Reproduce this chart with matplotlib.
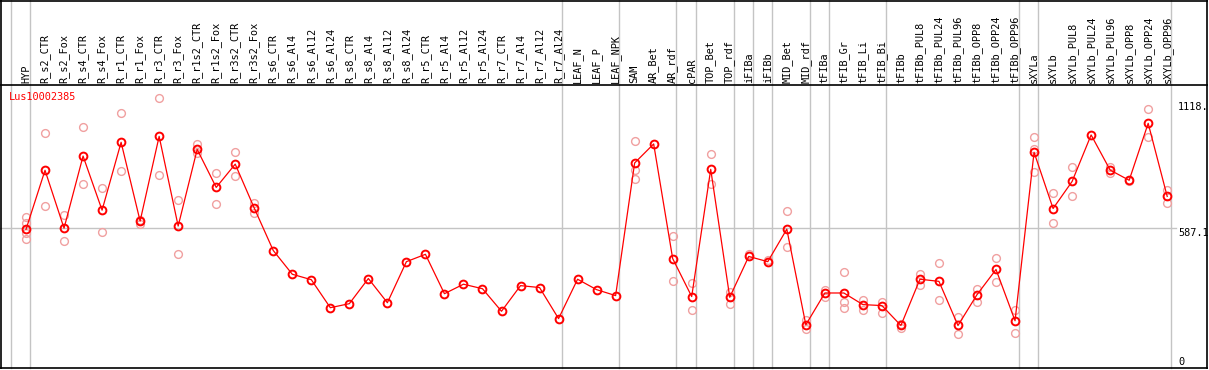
import matplotlib
matplotlib.use("Agg")
import matplotlib.pyplot as plt

W, H = 1209, 370
X0, DX = 26.0, 19.02          # pixel x of first column, column spacing
Y0, SY = 367.5, 0.2373        # pixel y of value 0, pixels per unit

GENE = "Lus10002385"

samples = [
    "HYP", "R_s2_CTR", "R_s2_Fox", "R_s4_CTR", "R_s4_Fox", "R_r1_CTR", "R_r1_Fox",
    "R_r3_CTR", "R_r3_Fox", "R_r1s2_CTR", "R_r1s2_Fox", "R_r3s2_CTR", "R_r3s2_Fox",
    "R_s6_CTR", "R_s6_Al4", "R_s6_Al12", "R_s6_Al24", "R_s8_CTR", "R_s8_Al4",
    "R_s8_Al12", "R_s8_Al24", "R_r5_CTR", "R_r5_Al4", "R_r5_Al12", "R_r5_Al24",
    "R_r7_CTR", "R_r7_Al4", "R_r7_Al12", "R_r7_Al24", "LEAF_N", "LEAF_P", "LEAF_NPK",
    "SAM", "AR_Bet", "AR_rdf", "cPAR", "TOP_Bet", "TOP_rdf", "iFIBa", "iFIBb",
    "MID_Bet", "MID_rdf", "tFIBa", "tFIB_Gr", "tFIB_Li", "tFIB_Bi", "tFIBb",
    "tFIBb_PUL8", "tFIBb_PUL24", "tFIBb_PUL96", "tFIBb_OPP8", "tFIBb_OPP24",
    "tFIBb_OPP96", "sXYLa", "sXYLb", "sXYLb_PUL8", "sXYLb_PUL24", "sXYLb_PUL96",
    "sXYLb_OPP8", "sXYLb_OPP24", "sXYLb_OPP96",
]

means = [
    582, 831, 587, 891, 663, 949, 617, 974, 596, 919, 759, 857, 672,
    493, 393, 370, 252, 269, 375, 273, 446, 477, 311, 351, 332,
    237, 345, 337, 206, 372, 328, 303,
    862, 942, 459, 299, 835, 296, 468, 446,
    583, 180, 314, 314, 265, 261, 177,
    372, 363, 177, 307, 413, 197,
    907, 670, 784, 980, 832, 789, 1029, 721,
]

replicates = [
    [635, 607, 565, 543], [987, 679], [641, 535], [1014, 772], [755, 569],
    [1071, 827], [621, 604], [1135, 810], [707, 480], [941, 903], [821, 691],
    [907, 805], [694, 649],
    [], [], [], [], [], [], [], [], [], [], [], [], [], [], [], [], [], [], [],
    [955, 831, 793], [], [553, 366], [356, 244], [900, 774], [318, 267],
    [480], [451], [659, 506], [199, 162], [325, 297], [404, 275, 252],
    [286, 241], [276, 231], [184, 166],
    [392, 349], [442, 283], [212, 142], [332, 277], [463, 362], [243, 145],
    [973, 921, 825], [734, 611], [846, 724], [], [843, 821], [784],
    [1090, 970], [748, 695],
]

# group separators sit just right of these columns
separators = [-1, 0, 28, 31, 34, 35, 37, 38, 39, 41, 42, 45, 52, 53, 60]

y_ticks = [1118.4, 587.1, 0]
y_tick_labels = ["1118.", "587.1", "0"]


def px_x(px):
    return (px - X0) / DX


def px_y(py):
    return (Y0 - py) / SY


fig = plt.figure(figsize=(W / 100, H / 100), dpi=100)
ax = fig.add_axes([0, 0, 1, 1])
ax.set_xlim(px_x(0), px_x(W))
ax.set_ylim(px_y(H), px_y(0))
ax.axis("off")

font = dict(family="DejaVu Sans Mono", fontsize=7.4)
grey = "#c4c4c4"

for s in separators:
    ax.plot([s + 0.2, s + 0.2], [px_y(368), px_y(0)], color=grey, lw=1.0, zorder=1)
ax.plot([px_x(0), px_x(1176)], [587.1, 587.1], color=grey, lw=1.0, zorder=1)

# frame and header separator
k = dict(color="black", lw=1.2, zorder=5, solid_capstyle="butt")
ax.plot([px_x(0), px_x(1208)], [px_y(0.6), px_y(0.6)], **k)
ax.plot([px_x(0), px_x(1208)], [px_y(85), px_y(85)], **k)
ax.plot([px_x(0), px_x(1208)], [px_y(368), px_y(368)], **k)
ax.plot([px_x(1.2), px_x(1.2)], [px_y(0), px_y(369)], **k)
ax.plot([px_x(1207), px_x(1207)], [px_y(0), px_y(369)], **k)

for i, name in enumerate(samples):
    ax.text(i, px_y(83), name, rotation=90, ha="center", va="bottom", **font)

for i, reps in enumerate(replicates):
    if reps:
        ax.plot([i] * len(reps), reps, "o", ms=5.6, mfc="none", mec="#f0a0a0",
                mew=1.0, zorder=2)

xs = list(range(len(means)))
ax.plot(xs, means, "-", color="red", lw=0.9, zorder=3)
ax.plot(xs, means, "o", ms=5.6, mfc="none", mec="red", mew=1.4, zorder=4)

ax.text(px_x(9), px_y(97), GENE, color="red", ha="left", va="center", **font)

for v, lab in zip(y_ticks, y_tick_labels):
    yy = v if v > 0 else px_y(362)
    ax.text(px_x(1178), yy - (5 / SY if v > 0 else 0), lab, ha="left",
            va="center", **font)

fig.savefig("out.png", dpi=100)
